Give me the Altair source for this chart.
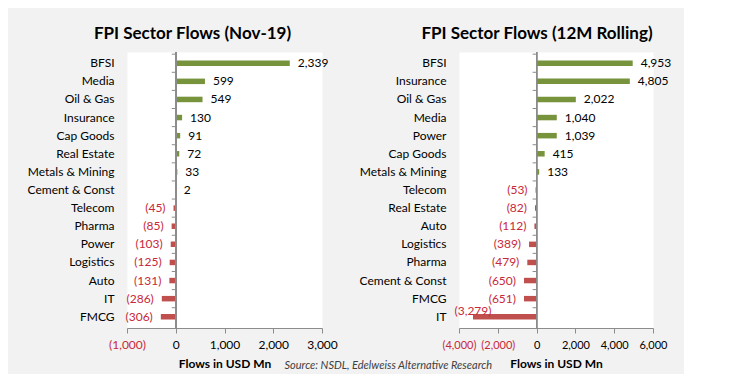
import altair as alt
import pandas as pd

left_cats = ["BFSI", "Media", "Oil & Gas", "Insurance", "Cap Goods", "Real Estate",
             "Metals & Mining", "Cement & Const", "Telecom", "Pharma", "Power",
             "Logistics", "Auto", "IT", "FMCG"]
left_vals = [2339, 599, 549, 130, 91, 72, 33, 2, -45, -85, -103, -125, -131, -286, -306]
left_ticks = [-1000, 0, 1000, 2000, 3000]

right_cats = ["BFSI", "Insurance", "Oil & Gas", "Media", "Power", "Cap Goods",
              "Metals & Mining", "Telecom", "Real Estate", "Auto", "Logistics",
              "Pharma", "Cement & Const", "FMCG", "IT"]
right_vals = [4953, 4805, 2022, 1040, 1039, 415, 133, -53, -82, -112, -389, -479, -650, -651, -3279]
right_ticks = [-4000, -2000, 0, 2000, 4000, 6000]

FONT = "Lato"
GREEN = "#77933C"
BAR_RED = "#C0504D"
TXT_RED = "#C8283A"
GRAY = "#8C8C8C"

LBL = "datum.v < 0 ? '(' + format(-datum.v, ',') + ')' : format(datum.v, ',')"


def panel(cats, vals, ticks, title, width, title_dx, tick_fs):
    df = pd.DataFrame({"cat": cats, "v": vals})
    dom = [ticks[0], ticks[-1]]
    base = alt.Chart(df).transform_calculate(lbl=LBL)
    yax = alt.Axis(title=None, domain=False, ticks=False, labelPadding=13,
                   labelFontSize=12, labelColor="black", labelFont=FONT,
                   minExtent=100, maxExtent=100, labelLimit=200)
    yscale = alt.Scale(paddingInner=0, paddingOuter=0.12)
    y = alt.Y("cat:N", sort=cats, scale=yscale, axis=yax)
    xax = alt.Axis(values=ticks, tickCount=len(ticks), title="Flows in USD Mn", grid=False,
                   labelExpr="datum.value < 0 ? '(' + format(-datum.value, ',') + ')' : format(datum.value, ',')",
                   labelColor={"condition": {"test": "datum.value < 0", "value": TXT_RED}, "value": "black"},
                   labelFontSize=tick_fs, labelFont=FONT, labelPadding=6,
                   labelOverlap=False, labelBound=False, labelSeparation=0,
                   labelFlush=False,
                   tickSize=5, tickColor=GRAY, domainColor=GRAY,
                   titleFont=FONT, titleFontSize=12, titleFontWeight="bold",
                   titleColor="black", titlePadding=8)
    xs = alt.Scale(domain=dom, nice=False, zero=False)
    x = alt.X("v:Q", scale=xs, axis=xax)
    bars = base.mark_bar(size=5.5).encode(
        x=x, y=y,
        color=alt.condition("datum.v < 0", alt.value(BAR_RED), alt.value(GREEN)))
    zero = base.mark_rule(color=GRAY, strokeWidth=1).encode(x=alt.datum(0))
    tickm = base.mark_rule(color=GRAY, strokeWidth=1, xOffset=-4).encode(
        x=alt.datum(0), x2=alt.datum(0),
        y=alt.Y("cat:N", sort=cats, bandPosition=0))
    far = dom[0] * 0.6
    pos_t = base.transform_filter("datum.v >= 0").mark_text(
        align="left", dx=8, font=FONT, fontSize=12, color="black").encode(
        x=x, y=y, text="lbl:N")
    neg_t = base.transform_filter(f"datum.v < 0 && datum.v > {far}").mark_text(
        align="right", dx=-8, font=FONT, fontSize=12, color=TXT_RED).encode(
        x=x, y=y, text="lbl:N")
    far_t = base.transform_filter(f"datum.v <= {far}").mark_text(
        align="center", dy=-6, font=FONT, fontSize=12, color=TXT_RED).encode(
        x=x, y=y, text="lbl:N")
    return alt.layer(bars, zero, tickm, pos_t, neg_t, far_t).properties(
        width=width, height=276,
        title=alt.TitleParams(title, font=FONT, fontSize=17, fontWeight="bold",
                              color="black", offset=9, frame="group",
                              anchor="middle", dx=title_dx))


left = panel(left_cats, left_vals, left_ticks, "FPI Sector Flows (Nov-19)", 195, -32, 12)
right = panel(right_cats, right_vals, right_ticks, "FPI Sector Flows (12M Rolling)", 194, -19, 11)

chart = alt.hconcat(left, right, spacing=20).properties(
    title=alt.TitleParams("Source: NSDL, Edelweiss Alternative Research",
                          orient="bottom", anchor="start", dx=258, offset=-10,
                          font=FONT, fontSize=11, fontStyle="italic",
                          fontWeight="normal", color="#404040"),
    padding={"left": 18, "top": 16, "right": 12, "bottom": 3},
    background="#F2F2F2",
).configure_view(fill="white", stroke="transparent").configure_axisX(labelOverlap=False)

chart.save("out.html", embed_options={"renderer": "svg", "actions": False})
